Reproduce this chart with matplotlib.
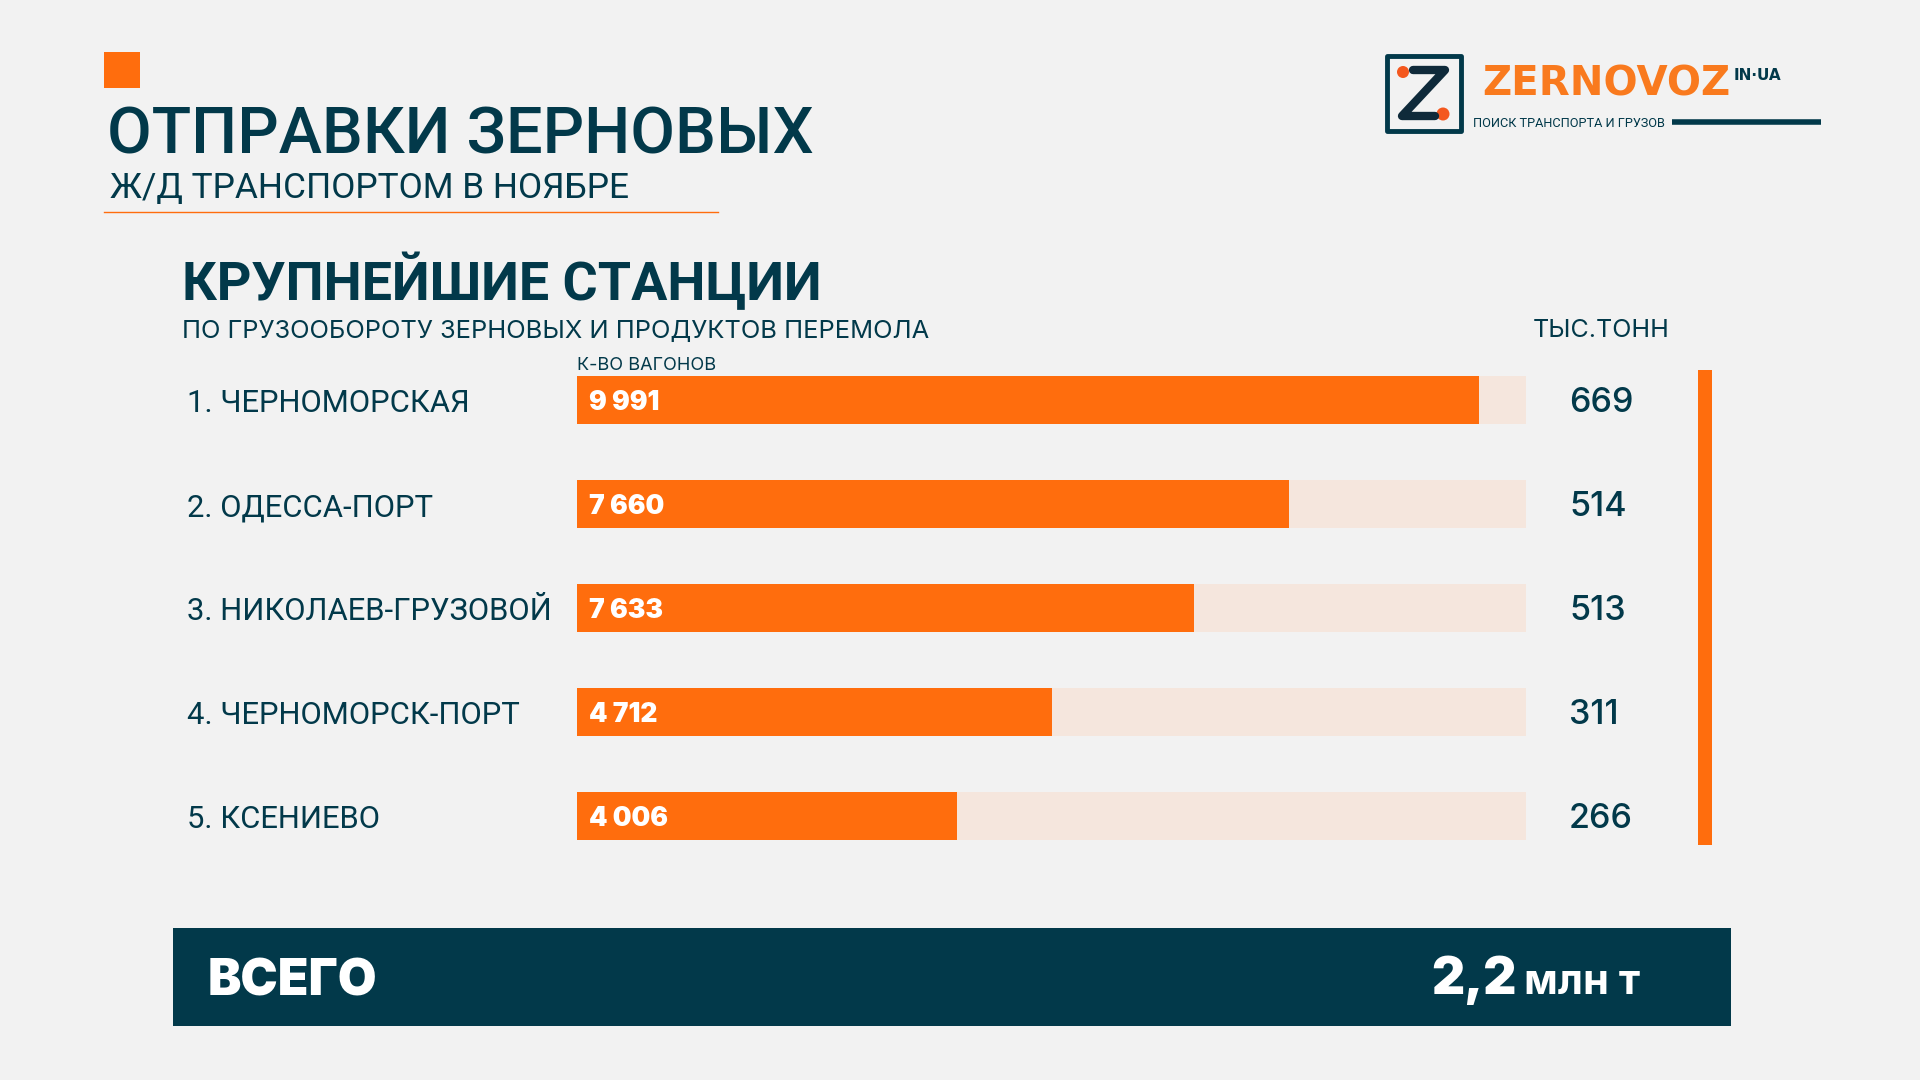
# -*- coding: utf-8 -*-
import matplotlib
matplotlib.use('Agg')
import matplotlib.pyplot as plt
from matplotlib.patches import Rectangle, Circle

plt.rcParams['font.family'] = ['Roboto', 'Noto Sans', 'DejaVu Sans']

# данные
stations = ['1. ЧЕРНОМОРСКАЯ', '2. ОДЕССА-ПОРТ', '3. НИКОЛАЕВ-ГРУЗОВОЙ',
            '4. ЧЕРНОМОРСК-ПОРТ', '5. КСЕНИЕВО']
wagons = ['9 991', '7 660', '7 633', '4 712', '4 006']
thousand_tons = ['669', '514', '513', '311', '266']
# длина полос на картинке, % от подложки (не пропорциональна вагонам)
bar_share = [95, 75, 65, 50, 40]
track_full = [100, 100, 100, 100, 100]

BG = '#F2F2F2'
ORANGE = '#FF6D0D'
TRACK = '#F5E6DD'
DARK = '#02394A'
INTER = ['Inter', 'DejaVu Sans']

fig = plt.figure(figsize=(19.2, 10.8), dpi=100, facecolor=BG)

# слой оформления в пикселях картинки
page = fig.add_axes([0, 0, 1, 1])
page.set_xlim(0, 1920)
page.set_ylim(1080, 0)
page.axis('off')

page.add_patch(Rectangle((104, 52), 36, 36, color=ORANGE, lw=0))
page.text(107, 153, 'ОТПРАВКИ ЗЕРНОВЫХ', fontsize=46.7, fontweight='medium', color=DARK)
page.text(110, 198, 'Ж/Д ТРАНСПОРТОМ В НОЯБРЕ', fontsize=25.4, color=DARK)
page.plot([104, 718], [212, 212], color=ORANGE, lw=1)

page.text(182, 300, 'КРУПНЕЙШИЕ СТАНЦИИ', fontsize=38.8, fontweight='bold', color=DARK)
page.text(182, 338, 'ПО ГРУЗООБОРОТУ ЗЕРНОВЫХ И ПРОДУКТОВ ПЕРЕМОЛА', fontsize=18.35,
          color=DARK, family=INTER)
page.text(577, 370, 'К-ВО ВАГОНОВ', fontsize=13, color=DARK, family=INTER)
page.text(1533, 337, 'ТЫС.ТОНН', fontsize=18, color=DARK, family=INTER)

page.add_patch(Rectangle((1698, 370), 14, 475, color=ORANGE, lw=0))

# итог
page.add_patch(Rectangle((173, 928), 1558, 98, color=DARK, lw=0))
page.text(208, 995, 'ВСЕГО', fontsize=36, fontweight='black', color='white', family=INTER)
page.text(1431, 994, '2,2', fontsize=37, fontweight='black', color='white', family=INTER)
page.text(1524, 994, 'млн т', fontsize=30, fontweight='bold', color='white', family=INTER)

# логотип
page.add_patch(Rectangle((1387, 56), 74, 75, fill=False, ec=DARK, lw=3.5, joinstyle='round'))
page.plot([1413, 1445, 1402, 1435], [70, 70, 116, 116], color='#0F2A3A', lw=6,
          solid_capstyle='round', solid_joinstyle='round')
page.add_patch(Circle((1403, 72), 6, color='#F4581E', lw=0))
page.add_patch(Circle((1443, 114), 6.5, color='#F4581E', lw=0))
page.text(1482, 96, 'ZERNOVOZ', fontsize=29, fontweight='bold', color='#F97A1E', family='DejaVu Sans')
page.text(1734, 80, 'IN·UA', fontsize=11, fontweight='bold', color=DARK, family='DejaVu Sans')
page.text(1473, 127, 'ПОИСК ТРАНСПОРТА И ГРУЗОВ', fontsize=9.2, color=DARK)
page.plot([1672, 1821], [122, 122], color=DARK, lw=4, solid_capstyle='butt')

# полосы
ax = fig.add_axes([577 / 1920, 1 - 868 / 1080, 949 / 1920, 520 / 1080])
ax.patch.set_alpha(0)
rows = list(range(len(stations)))
ax.barh(rows, track_full, height=0.46, color=TRACK)
ax.barh(rows, bar_share, height=0.46, color=ORANGE)
ax.set_xlim(0, 100)
ax.set_ylim(4.5, -0.5)
ax.axis('off')

for i in rows:
    ax.annotate(stations[i], xy=(0, i), xytext=(-390, -12), textcoords='offset pixels',
                fontsize=22.3, color=DARK, annotation_clip=False)
    ax.annotate(wagons[i], xy=(0, i), xytext=(12, -10), textcoords='offset pixels',
                fontsize=19, fontweight='black', color='white', family=INTER)
    ax.annotate(thousand_tons[i], xy=(100, i), xytext=(43, -12), textcoords='offset pixels',
                fontsize=24.5, fontweight='medium', color=DARK, annotation_clip=False, family=INTER)

fig.savefig('out.png', dpi=100, facecolor=BG)
